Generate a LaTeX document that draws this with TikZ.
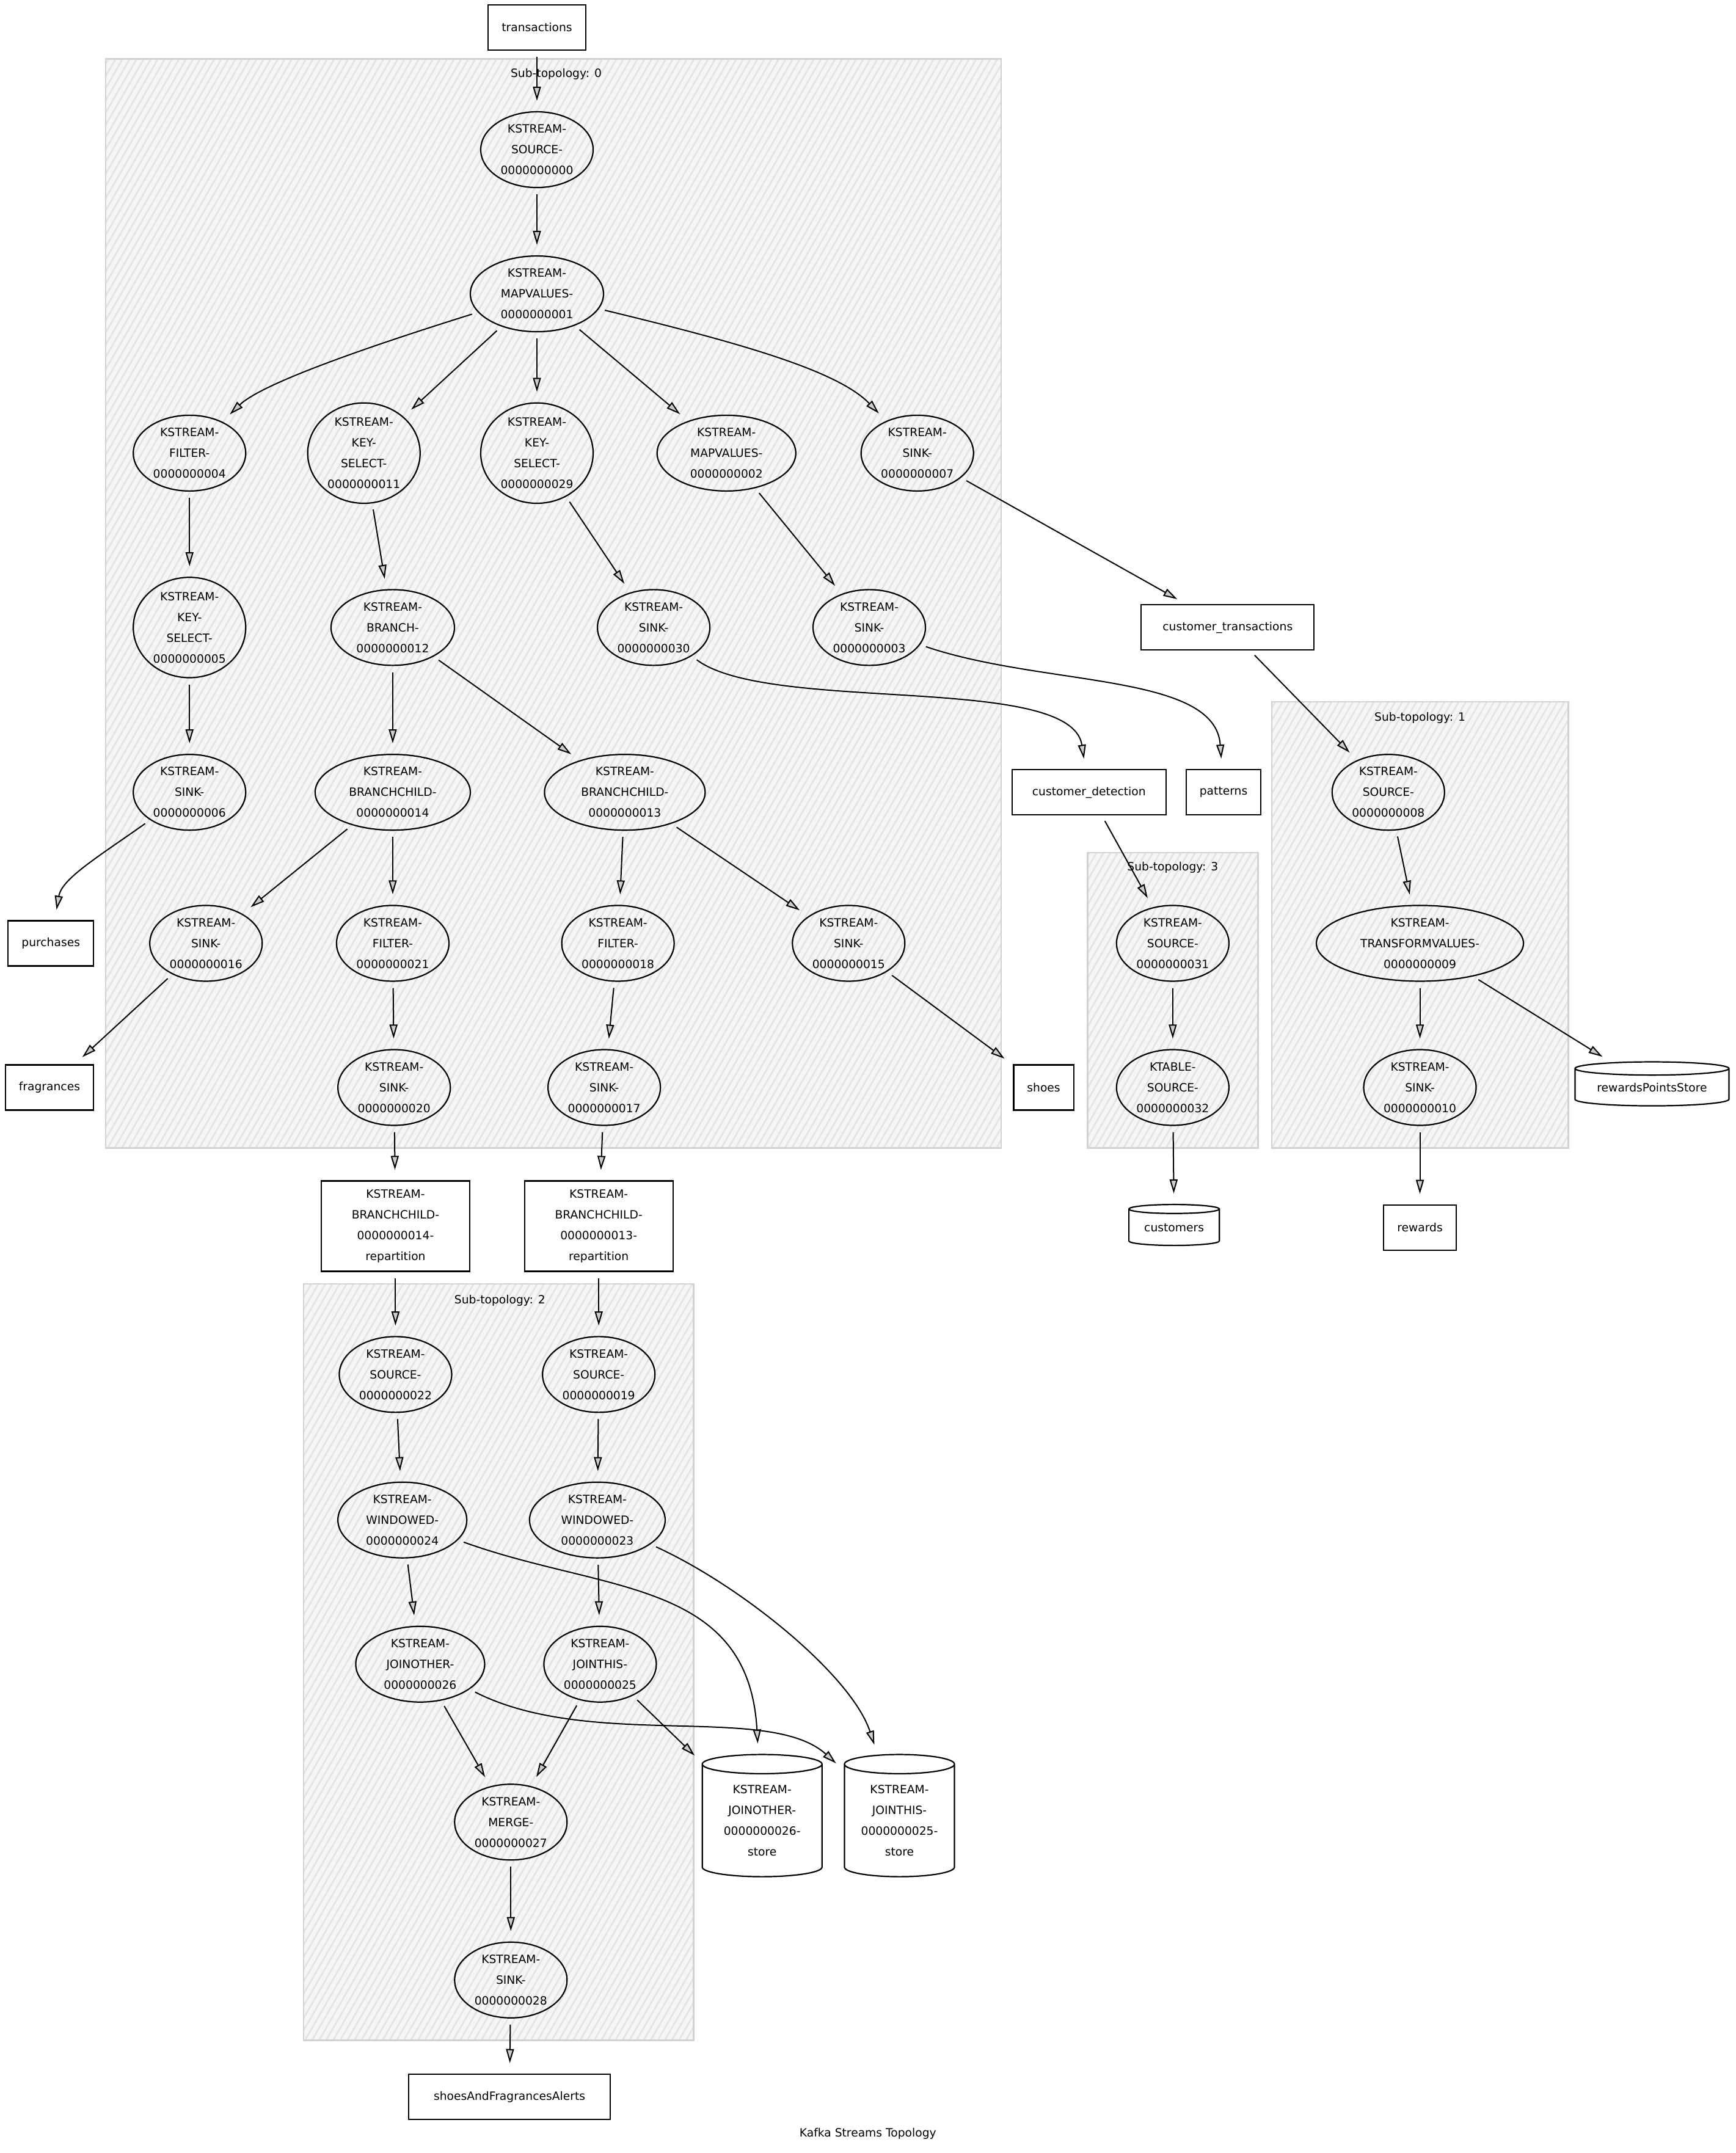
\documentclass[tikz,border=0pt]{standalone}
\usepackage{fontspec}
\setmainfont{DejaVu Sans}
\usepackage{tikz}
\usetikzlibrary{shapes.geometric, arrows.meta, patterns.meta}

\begin{document}
\begin{tikzpicture}[
    x=2.2476pt,
    y=-2.2476pt,
    font=\fontsize{18.7pt}{34pt}\selectfont,
    proc/.style={
        ellipse,
        draw=black,
        line width=2.2pt,
        align=center,
        inner sep=0pt,
        minimum width=184pt,
        minimum height=124pt
    },
    topic/.style={
        rectangle,
        draw=black,
        fill=white,
        line width=2.2pt,
        align=center,
        inner xsep=22pt,
        minimum height=74pt
    },
    store/.style={
        cylinder,
        shape border rotate=90,
        aspect=0.25,
        draw=black,
        fill=white,
        line width=2.2pt,
        align=center,
        inner sep=0pt
    },
    cluster/.style={
        draw=gray!35,
        line width=2.5pt,
        preaction={fill=gray!7},
        pattern={Lines[angle=60, distance=10pt, line width=2.5pt]},
        pattern color=gray!22
    },
    arrow/.style={
        line width=2pt,
        -{Triangle[length=23pt, width=13pt, fill=gray!40]},
        shorten >=17pt,
        shorten <=10pt
    }
]
    \useasboundingbox (0,0) rectangle (1264,1568);

    % Sub-topologies (background)
    \draw [cluster] (77,43) rectangle (729,836);
    \draw [cluster] (926,511) rectangle (1142,836);
    \draw [cluster] (792,621) rectangle (916,836);
    \draw [cluster] (221,935) rectangle (505,1486);
    \node (sub0) at (405,54) {Sub-topology: 0};
    \node (sub1) at (1034,523) {Sub-topology: 1};
    \node (sub3) at (854,632) {Sub-topology: 3};
    \node (sub2) at (364,947) {Sub-topology: 2};

    % Sub-topology 0
    \node [topic] (transactions) at (391,20) {transactions};
    \node [proc] (src0) at (391,109) {KSTREAM-\\SOURCE-\\0000000000};
    \node [proc, minimum width=218pt] (mv1) at (391,214) {KSTREAM-\\MAPVALUES-\\0000000001};

    \node [proc] (flt4) at (138,330) {KSTREAM-\\FILTER-\\0000000004};
    \node [proc] (ks11) at (265,330) {KSTREAM-\\KEY-\\SELECT-\\0000000011};
    \node [proc] (ks29) at (391,330) {KSTREAM-\\KEY-\\SELECT-\\0000000029};
    \node [proc, minimum width=227pt] (mv2) at (529,330) {KSTREAM-\\MAPVALUES-\\0000000002};
    \node [proc] (snk7) at (668,330) {KSTREAM-\\SINK-\\0000000007};

    \node [proc] (ks5) at (138,457) {KSTREAM-\\KEY-\\SELECT-\\0000000005};
    \node [proc, minimum width=202pt] (br12) at (286,457) {KSTREAM-\\BRANCH-\\0000000012};
    \node [proc] (snk30) at (476,457) {KSTREAM-\\SINK-\\0000000030};
    \node [proc] (snk3) at (633,457) {KSTREAM-\\SINK-\\0000000003};

    \node [proc] (snk6) at (138,577) {KSTREAM-\\SINK-\\0000000006};
    \node [proc, minimum width=254pt] (bc14) at (286,577) {KSTREAM-\\BRANCHCHILD-\\0000000014};
    \node [proc, minimum width=263pt] (bc13) at (455,577) {KSTREAM-\\BRANCHCHILD-\\0000000013};

    \node [proc] (snk16) at (150,687) {KSTREAM-\\SINK-\\0000000016};
    \node [proc] (flt21) at (286,687) {KSTREAM-\\FILTER-\\0000000021};
    \node [proc] (flt18) at (450,687) {KSTREAM-\\FILTER-\\0000000018};
    \node [proc] (snk15) at (618,687) {KSTREAM-\\SINK-\\0000000015};

    \node [proc] (snk20) at (287,792) {KSTREAM-\\SINK-\\0000000020};
    \node [proc] (snk17) at (440,792) {KSTREAM-\\SINK-\\0000000017};

    % Topics
    \node [topic] (purchases) at (37,687) {purchases};
    \node [topic] (fragrances) at (36,792) {fragrances};
    \node [topic, minimum width=283pt] (custtx) at (894,457) {customer\_transactions};
    \node [topic, minimum width=252pt] (custdet) at (793,577) {customer\_detection};
    \node [topic] (patterns) at (891,577) {patterns};
    \node [topic] (shoes) at (760,792) {shoes};
    \node [topic] (rewards) at (1034,894) {rewards};
    \node [topic, minimum width=243pt, minimum height=148pt] (rep14) at (288,893) {KSTREAM-\\BRANCHCHILD-\\0000000014-\\repartition};
    \node [topic, minimum width=243pt, minimum height=148pt] (rep13) at (436,893) {KSTREAM-\\BRANCHCHILD-\\0000000013-\\repartition};
    \node [topic, minimum width=330pt] (alerts) at (371,1527) {shoesAndFragrancesAlerts};

    % Sub-topology 1
    \node [proc] (src8) at (1011,577) {KSTREAM-\\SOURCE-\\0000000008};
    \node [proc, minimum width=339pt] (tv9) at (1034,687) {KSTREAM-\\TRANSFORMVALUES-\\0000000009};
    \node [proc] (snk10) at (1034,792) {KSTREAM-\\SINK-\\0000000010};
    \node [store, aspect=0.12, minimum width=252pt, minimum height=72pt] (rpstore) at (1203,792) {rewardsPointsStore};

    % Sub-topology 3
    \node [proc] (src31) at (854,687) {KSTREAM-\\SOURCE-\\0000000031};
    \node [proc] (kt32) at (854,792) {KTABLE-\\SOURCE-\\0000000032};
    \node [store, aspect=0.15, minimum width=148pt, minimum height=67pt] (customers) at (855,894) {customers};

    % Sub-topology 2
    \node [proc] (src22) at (288,1001) {KSTREAM-\\SOURCE-\\0000000022};
    \node [proc] (src19) at (436,1001) {KSTREAM-\\SOURCE-\\0000000019};
    \node [proc, minimum width=211pt] (win24) at (293,1107) {KSTREAM-\\WINDOWED-\\0000000024};
    \node [proc, minimum width=222pt] (win23) at (435,1107) {KSTREAM-\\WINDOWED-\\0000000023};
    \node [proc, minimum width=211pt] (jo26) at (306,1212) {KSTREAM-\\JOINOTHER-\\0000000026};
    \node [proc] (jt25) at (437,1212) {KSTREAM-\\JOINTHIS-\\0000000025};
    \node [proc] (mrg27) at (372,1327) {KSTREAM-\\MERGE-\\0000000027};
    \node [proc] (snk28) at (372,1442) {KSTREAM-\\SINK-\\0000000028};
    \node [store, minimum width=196pt, minimum height=200pt] (jostore) at (555,1326) {KSTREAM-\\JOINOTHER-\\0000000026-\\store};
    \node [store, minimum width=180pt, minimum height=200pt] (jtstore) at (655,1326) {KSTREAM-\\JOINTHIS-\\0000000025-\\store};

    \node (title) at (632,1554) {Kafka Streams Topology};

    % Connections
    \draw [arrow] (transactions) -- (src0);
    \draw [arrow] (src0) -- (mv1);
    \draw [arrow] (mv1) .. controls (260,255) and (190,280) .. (flt4);
    \draw [arrow] (mv1) -- (ks11);
    \draw [arrow] (mv1) -- (ks29);
    \draw [arrow] (mv1) -- (mv2);
    \draw [arrow] (mv1) .. controls (540,250) and (610,270) .. (snk7);
    \draw [arrow] (flt4) -- (ks5);
    \draw [arrow] (ks5) -- (snk6);
    \draw [arrow] (snk6) .. controls (70,625) and (45,640) .. (purchases);
    \draw [arrow] (ks11) -- (br12);
    \draw [arrow] (ks29) -- (snk30);
    \draw [arrow] (mv2) -- (snk3);
    \draw [arrow] (snk7) -- (custtx);
    \draw [arrow] (snk30) .. controls (560,520) and (780,490) .. (custdet);
    \draw [arrow] (snk3) .. controls (760,500) and (885,490) .. (patterns);
    \draw [arrow] (custtx) -- (src8);
    \draw [arrow] (br12) -- (bc14);
    \draw [arrow] (br12) -- (bc13);
    \draw [arrow] (bc14) -- (snk16);
    \draw [arrow] (bc14) -- (flt21);
    \draw [arrow] (bc13) -- (flt18);
    \draw [arrow] (bc13) -- (snk15);
    \draw [arrow] (snk16) -- (fragrances);
    \draw [arrow] (snk15) -- (shoes);
    \draw [arrow] (flt21) -- (snk20);
    \draw [arrow] (flt18) -- (snk17);
    \draw [arrow] (snk20) -- (rep14);
    \draw [arrow] (snk17) -- (rep13);

    \draw [arrow] (custdet) -- (src31);
    \draw [arrow] (src31) -- (kt32);
    \draw [arrow] (kt32) -- (customers);

    \draw [arrow] (src8) -- (tv9);
    \draw [arrow] (tv9) -- (snk10);
    \draw [arrow] (tv9) -- (rpstore);
    \draw [arrow] (snk10) -- (rewards);

    \draw [arrow] (rep14) -- (src22);
    \draw [arrow] (rep13) -- (src19);
    \draw [arrow] (src22) -- (win24);
    \draw [arrow] (src19) -- (win23);
    \draw [arrow] (win24) -- (jo26);
    \draw [arrow] (win24) .. controls (440,1160) and (545,1150) .. (jostore);
    \draw [arrow] (win23) -- (jt25);
    \draw [arrow] (win23) .. controls (540,1155) and (620,1220) .. (jtstore);
    \draw [arrow] (jo26) -- (mrg27);
    \draw [arrow] (jo26) .. controls (430,1275) and (560,1240) .. (jtstore);
    \draw [arrow] (jt25) -- (mrg27);
    \draw [arrow] (jt25) -- (jostore);
    \draw [arrow] (mrg27) -- (snk28);
    \draw [arrow] (snk28) -- (alerts);

\end{tikzpicture}
\end{document}
